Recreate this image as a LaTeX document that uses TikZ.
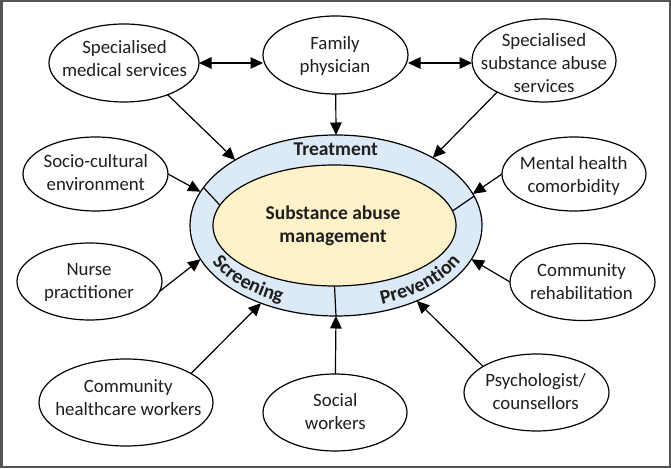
\documentclass[tikz,border=0pt]{standalone}
\usepackage{fontspec}
\setmainfont{Carlito}
\usetikzlibrary{shapes.geometric,arrows.meta,decorations.text}
\definecolor{bandblue}{RGB}{220,233,246}
\definecolor{coreyellow}{RGB}{255,242,200}
\definecolor{framegray}{RGB}{85,85,85}
\definecolor{inkcol}{RGB}{30,30,30}
\begin{document}
\begin{tikzpicture}[x=1pt,y=1pt,
  actor/.style={ellipse, draw=black, line width=1.2pt, fill=white, inner sep=0pt, outer sep=0pt},
  lbl/.style={align=center, inner sep=0pt, font=\fontsize{18.8}{23}\selectfont, text=inkcol},
  boldlbl/.style={align=center, inner sep=0pt, font=\fontsize{19.5}{23}\selectfont\bfseries, text=inkcol},
  hub/.style={ellipse, draw=black, line width=1.2pt, inner sep=0pt, outer sep=0pt},
  link/.style={-{Triangle[length=12.5pt,width=11.5pt]}, line width=1.2pt},
  dlink/.style={{Triangle[length=12.5pt,width=11.5pt]}-{Triangle[length=12.5pt,width=11.5pt]}, line width=1.2pt}]
\useasboundingbox (0,0) rectangle (671,468);
\draw[framegray, line width=2.5pt] (1.25,1.25) rectangle (669.75,466.75);

% hub
\node[hub, fill=bandblue, minimum width=292pt, minimum height=181pt] (outer) at (336,242.5) {};
\node[hub, fill=coreyellow, minimum width=243pt, minimum height=121pt] (inner) at (334.5,242.5) {};
\draw[line width=1.2pt] (inner.170.7) -- (outer.164.8);
\draw[line width=1.2pt] (inner.7) -- (outer.12.2);
\draw[line width=1.2pt] (inner.south) -- (outer.south);
\node[boldlbl] (core) at (333,241.8) {Substance abuse\\management};
\node[boldlbl, anchor=base] (treat) at (335.8,312) {Treatment};
\path[decorate, decoration={text along path, text align=center,
  text={|\fontsize{20}{23}\selectfont\bfseries\color{inkcol}|Screening}}]
  (336,242.5) ++(182.5:138.5 and 83.5) arc[start angle=182.5, end angle=262.5, x radius=138.5, y radius=83.5];
\path[decorate, decoration={text along path, text align=center,
  text={|\fontsize{20}{23}\selectfont\bfseries\color{inkcol}|Prevention}}]
  (336,242.5) ++(275.5:138.5 and 83.5) arc[start angle=275.5, end angle=355.5, x radius=138.5, y radius=83.5];

% outer actors
\node[actor, minimum width=150pt, minimum height=78pt] (smed) at (124,405) {};
\node[lbl] (smedt) at (124.5,409.3) {Specialised\\medical services};
\node[actor, minimum width=145pt, minimum height=78pt] (fam) at (335.5,413) {};
\node[lbl] (famt) at (335,412.2) {Family\\physician};
\node[actor, minimum width=144pt, minimum height=83pt] (ssub) at (544,407.5) {};
\node[lbl] (ssubt) at (544,405) {Specialised\\substance abuse\\services};
\node[actor, minimum width=145pt, minimum height=74pt] (socio) at (95.5,294) {};
\node[lbl] (sociot) at (95.8,295.5) {Socio-cultural\\environment};
\node[actor, minimum width=145pt, minimum height=77pt] (nurse) at (89.5,186.5) {};
\node[lbl] (nurset) at (89,185.2) {Nurse\\practitioner};
\node[actor, minimum width=174pt, minimum height=87pt] (chw) at (126,65.5) {};
\node[lbl] (chwt) at (128.3,70.2) {Community\\healthcare workers};
\node[actor, minimum width=144pt, minimum height=77pt] (social) at (335,55.5) {};
\node[lbl] (socialt) at (335.3,56.5) {Social\\workers};
\node[actor, minimum width=145pt, minimum height=77pt] (psych) at (536.5,75.5) {};
\node[lbl] (psycht) at (535.7,76.5) {Psychologist/\\counsellors};
\node[actor, minimum width=144pt, minimum height=74pt] (mental) at (574,294) {};
\node[lbl] (mentalt) at (573.7,292) {Mental health\\comorbidity};
\node[actor, minimum width=145pt, minimum height=77pt] (rehab) at (582.5,186) {};
\node[lbl] (rehabt) at (581.5,186.5) {Community\\rehabilitation};

% connectors
\draw[dlink] (smed.east) -- (smed.east -| fam.west);
\draw[dlink] (fam.east |- smed.east) -- (ssub.west |- smed.east);
\draw[link] (fam) -- (outer.north);
\draw[link] (smed.324) -- (outer.147.4);
\draw[link] (ssub.214.7) -- (outer.35.6);
\draw[link] (socio.east) -- (outer.166);
\draw[link] (nurse.352) -- (outer.194.7);
\draw[link] (chw.24.5) -- (outer.226.3);
\draw[link] (social) -- (outer.south);
\draw[link] (psych.154.1) -- (outer.317.3);
\draw[link] (mental.west) -- (outer.13.5);
\draw[link] (rehab.west) -- (outer.346.3);
\end{tikzpicture}
\end{document}
